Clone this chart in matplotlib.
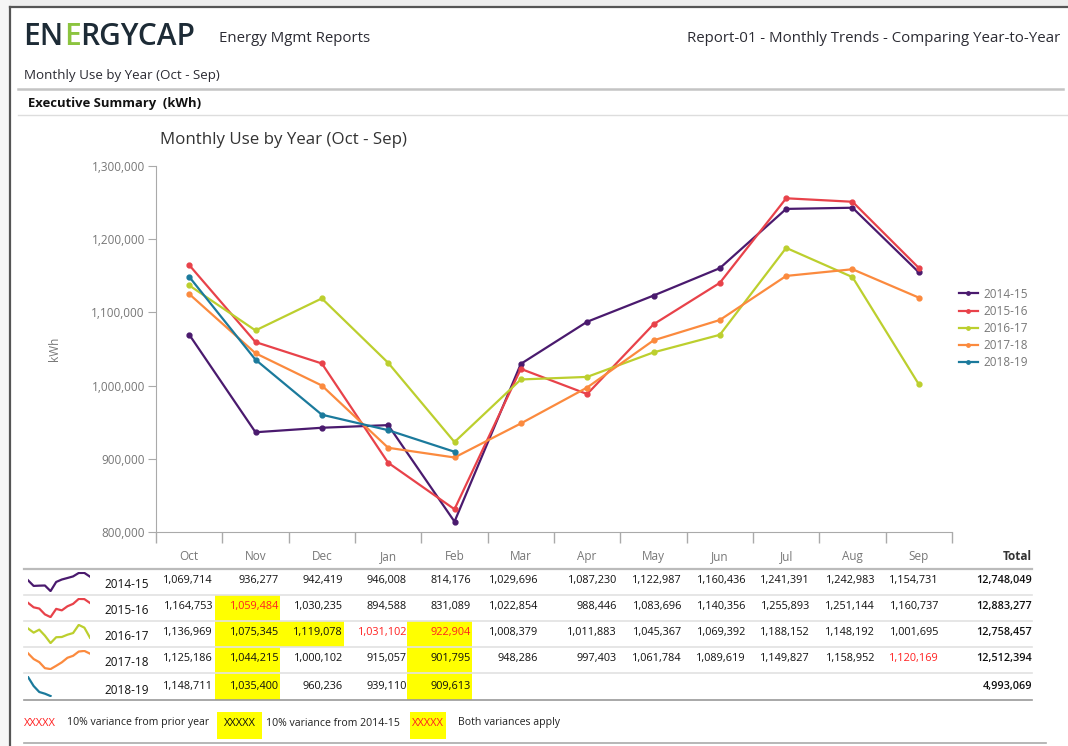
import matplotlib
matplotlib.use("Agg")
import matplotlib.pyplot as plt
from matplotlib.lines import Line2D
from matplotlib.patches import Rectangle

plt.rcParams['font.family'] = ['Open Sans', 'DejaVu Sans']

months = ['Oct', 'Nov', 'Dec', 'Jan', 'Feb', 'Mar', 'Apr', 'May', 'Jun', 'Jul', 'Aug', 'Sep']
years = ['2014-15', '2015-16', '2016-17', '2017-18', '2018-19']
colors = ['#4a1a6e', '#e8424a', '#bccf2e', '#fb8a3e', '#1b7a9c']

use_1415 = [1069714, 936277, 942419, 946008, 814176, 1029696, 1087230, 1122987, 1160436, 1241391, 1242983, 1154731]
use_1516 = [1164753, 1059484, 1030235, 894588, 831089, 1022854, 988446, 1083696, 1140356, 1255893, 1251144, 1160737]
use_1617 = [1136969, 1075345, 1119078, 1031102, 922904, 1008379, 1011883, 1045367, 1069392, 1188152, 1148192, 1001695]
use_1718 = [1125186, 1044215, 1000102, 915057, 901795, 948286, 997403, 1061784, 1089619, 1149827, 1158952, 1120169]
use_1819 = [1148711, 1035400, 960236, 939110, 909613]
series = [use_1415, use_1516, use_1617, use_1718, use_1819]
totals = [12748049, 12883277, 12758457, 12512394, 4993069]

# cell flags: (row, col) -> 'red' text, 'yellow' fill, 'both'
flags = {(1, 1): 'both', (2, 1): 'yellow', (2, 2): 'yellow', (2, 3): 'red', (2, 4): 'both',
         (3, 1): 'yellow', (3, 4): 'yellow', (3, 11): 'red', (4, 1): 'yellow', (4, 4): 'yellow'}

W, H = 1068, 746
fig = plt.figure(figsize=(W / 100, H / 100), dpi=100)


def fx(x):
    return x / W


def fy(y):
    return 1 - y / H


def hline(x0, x1, y, color, lw):
    fig.add_artist(Line2D([fx(x0), fx(x1)], [fy(y), fy(y)], color=color, lw=lw))


# window frame
fig.add_artist(Rectangle((0, fy(7)), 1, 7 / H, color='#ededed', lw=0))
fig.add_artist(Rectangle((0, 0), fx(10), 1, color='#f6f6f6', lw=0))
fig.add_artist(Line2D([fx(10), fx(10)], [0, fy(7)], color='#555555', lw=1.6))
fig.add_artist(Line2D([fx(10), 1], [fy(7), fy(7)], color='#555555', lw=1.6))

# header
dark = '#2b2b33'
logo = '#1d2b36'
fig.text(fx(23), fy(37), 'EN', fontsize=21.5, color=logo, va='center', ha='left', fontweight='semibold')
fig.text(fx(64), fy(37), 'E', fontsize=21.5, color='#8cc43f', va='center', ha='left', fontweight='semibold')
fig.text(fx(80), fy(37), 'RGYCAP', fontsize=21.5, color=logo, va='center', ha='left', fontweight='semibold')
fig.text(fx(219), fy(39), 'Energy Mgmt Reports', fontsize=10.8, color=dark, va='center')
fig.text(fx(1060), fy(39), 'Report-01 - Monthly Trends - Comparing Year-to-Year', fontsize=10.8,
         color=dark, va='center', ha='right')
fig.text(fx(24), fy(75), 'Monthly Use by Year (Oct - Sep)', fontsize=9.6, color=dark, va='center')
hline(18, 1063, 89, '#c4c4c4', 1.8)
fig.text(fx(28), fy(103), 'Executive Summary  (kWh)', fontsize=9.4, color='#111111',
         va='center', fontweight='bold')
hline(18, 1068, 115, '#dddddd', 1.0)

# chart
ax = fig.add_axes([fx(156), fy(532), fx(952) - fx(156), (532 - 166) / H])
for name, vals, c in zip(years, series, colors):
    ax.plot(range(len(vals)), vals, color=c, lw=1.6, marker='o', ms=3.5, label=name)
ax.set_xlim(-0.5, 11.5)
ax.set_ylim(800000, 1300000)
ax.set_yticks(range(800000, 1300001, 100000))
ax.set_yticklabels(['{:,}'.format(v) for v in range(800000, 1300001, 100000)])
ax.set_xticks(range(12))
ax.set_xticklabels(months)
ax.set_xticks([i - 0.5 for i in range(13)], minor=True)
ax.tick_params(axis='x', which='major', length=0, pad=13, labelsize=8.5, labelcolor='#777777')
ax.tick_params(axis='x', which='minor', length=8, color='#aaaaaa', width=1)
ax.tick_params(axis='y', length=6, color='#aaaaaa', labelsize=8.5, labelcolor='#777777', pad=2)
for s in ['top', 'right']:
    ax.spines[s].set_visible(False)
for s in ['left', 'bottom']:
    ax.spines[s].set_color('#aaaaaa')
ax.set_ylabel('kWh', color='#777777', fontsize=8.5, labelpad=22)
ax.set_title('Monthly Use by Year (Oct - Sep)', loc='left', fontsize=12.2, color='#333333',
             x=0.005, pad=16)
ax.legend(loc='upper left', bbox_to_anchor=(fx(948), fy(277)), bbox_transform=fig.transFigure,
          frameon=False, fontsize=8.5, labelcolor='#777777', handlelength=1.6,
          labelspacing=0.35, handletextpad=0.5, markerscale=0.7)

# table
col_right = [213, 279, 343, 407, 471, 538, 617, 682, 746, 810, 875, 939]
col_left = [150, 214, 279, 343, 406, 472, 538, 617, 682, 746, 810, 875]
row_y = [580, 607, 633, 659, 686]
row_top = [569, 595, 621, 647, 673]
row_bot = [595, 621, 647, 673, 700]
tfs = 7.8
fig.text(fx(1032), fy(557), 'Total', fontsize=8.5, color='#333333', ha='right', va='center',
         fontweight='bold')
hline(24, 1032, 569, '#bbbbbb', 1.6)
for r in range(4):
    hline(24, 1032, row_bot[r], '#e2e2e2', 1.2)
hline(24, 1032, 700, '#999999', 1.2)

for r, (name, vals, c) in enumerate(zip(years, series, colors)):
    for j, v in enumerate(vals):
        f = flags.get((r, j))
        if f in ('yellow', 'both'):
            fig.add_artist(Rectangle((fx(col_left[j] + 1), fy(row_bot[r])),
                                     fx(col_right[j] + 1) - fx(col_left[j] + 1),
                                     (row_bot[r] - row_top[r]) / H, color='#ffff00', lw=0))
        tc = '#ff2020' if f in ('red', 'both') else '#111111'
        fig.text(fx(col_right[j]), fy(row_y[r]), '{:,}'.format(v), fontsize=tfs, color=tc,
                 ha='right', va='center')
    fig.text(fx(1032), fy(row_y[r]), '{:,}'.format(totals[r]), fontsize=tfs, color='#111111',
             ha='right', va='center', fontweight='semibold')
    fig.text(fx(104), fy(row_y[r] + 4), name, fontsize=8.5, color='#111111', ha='left', va='center')
    sp = fig.add_axes([fx(28), fy(row_bot[r] - 3), fx(90) - fx(28), (row_bot[r] - row_top[r] - 6) / H])
    sp.plot(range(len(vals)), vals, color=c, lw=1.6)
    sp.set_xlim(0, 11)
    sp.axis('off')

# variance key
fig.text(fx(24), fy(723), 'XXXXX', fontsize=8, color='#ff2020', va='center')
fig.text(fx(67), fy(723), '10% variance from prior year', fontsize=7.6, color='#222222', va='center')
fig.add_artist(Rectangle((fx(217), fy(739)), fx(262) - fx(217), 27 / H, color='#ffff00', lw=0))
fig.text(fx(239.5), fy(723), 'XXXXX', fontsize=8, color='#111111', va='center', ha='center')
fig.text(fx(266), fy(723), '10% variance from 2014-15', fontsize=7.6, color='#222222', va='center')
fig.add_artist(Rectangle((fx(410), fy(739)), fx(446) - fx(410), 27 / H, color='#ffff00', lw=0))
fig.text(fx(428), fy(723), 'XXXXX', fontsize=8, color='#ff2020', va='center', ha='center')
fig.text(fx(458), fy(723), 'Both variances apply', fontsize=7.6, color='#222222', va='center')
hline(24, 1046, 743, '#aaaaaa', 1.2)

fig.savefig('out.png', dpi=100)
